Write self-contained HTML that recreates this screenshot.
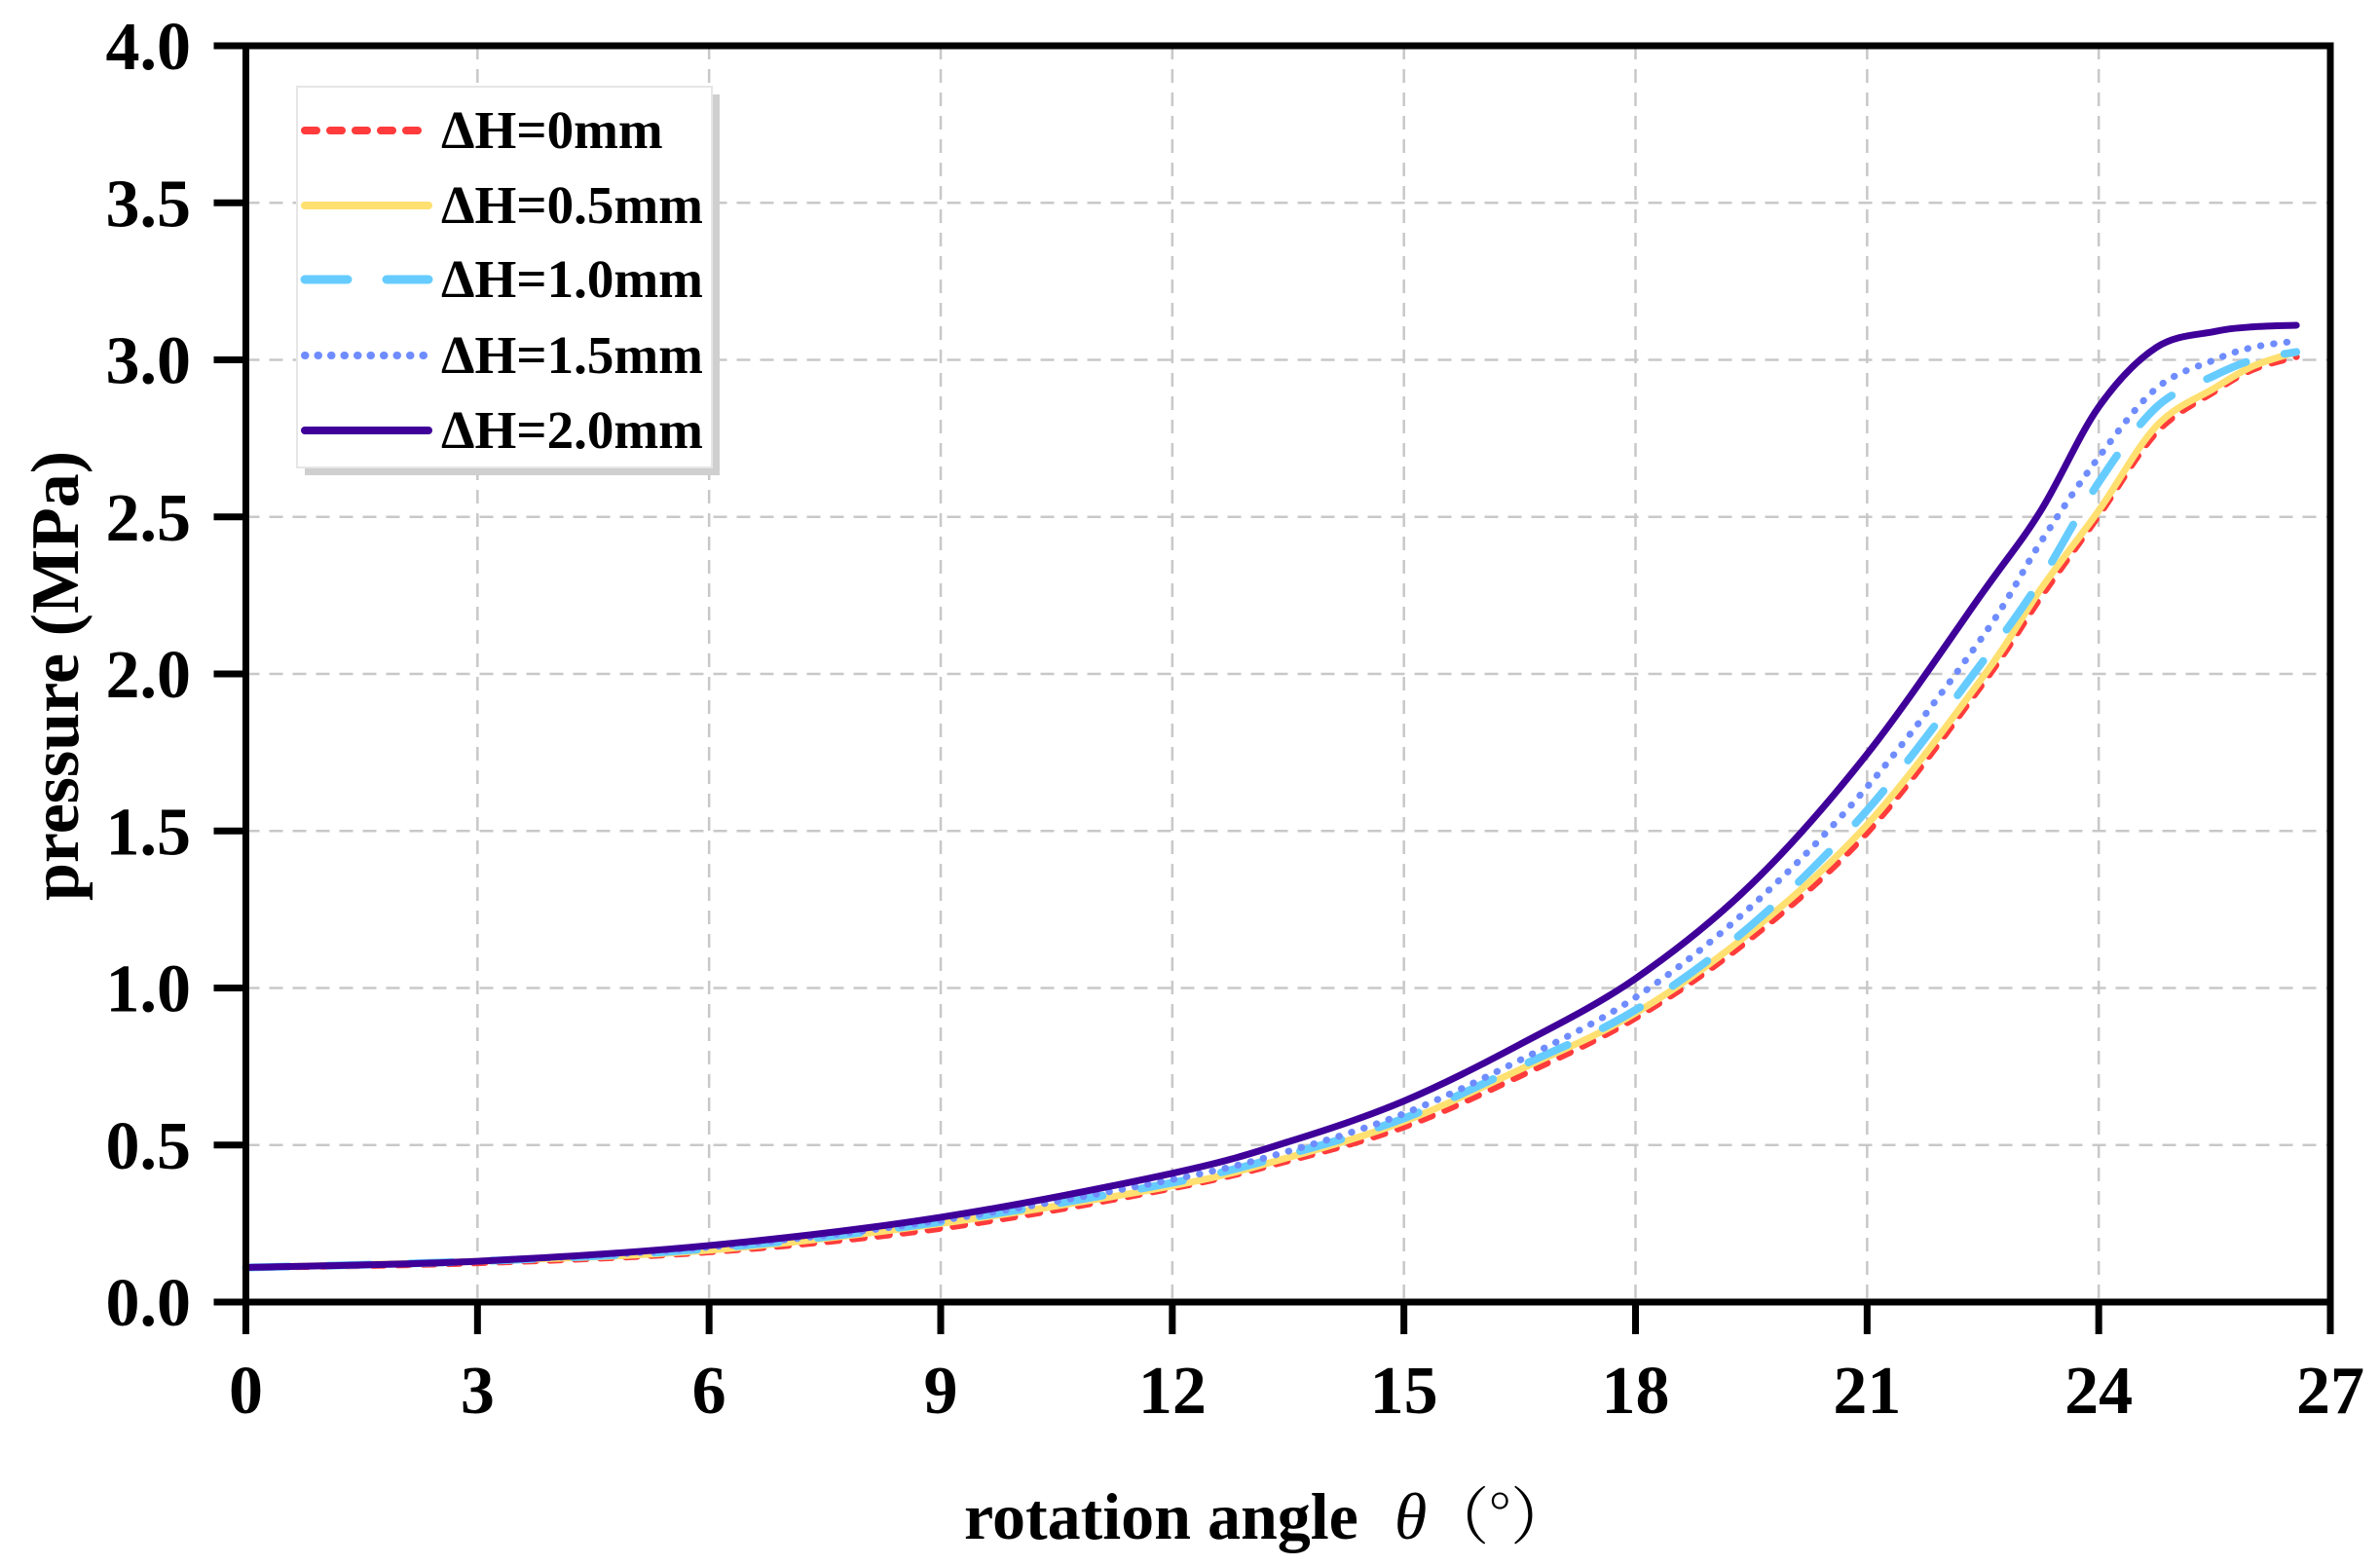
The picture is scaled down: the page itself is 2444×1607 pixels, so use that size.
<!DOCTYPE html>
<html><head><meta charset="utf-8"><style>
html,body{margin:0;padding:0;background:#fff;}
svg{display:block;font-family:"Liberation Serif","Noto Serif CJK SC",serif;font-weight:bold;}
</style></head><body>
<svg id="chart" width="2444" height="1607" viewBox="0 0 2444 1607" xmlns="http://www.w3.org/2000/svg">
<g id="grid"></g>
<g id="series"></g>
<g id="axes"></g>
<g id="legend"></g>
<text x="990" y="1580" font-size="68">rotation angle <tspan font-style="italic" font-weight="normal" dx="20">θ</tspan><tspan font-weight="normal" font-family="Noto Serif CJK SC, serif" font-size="64">（°）</tspan></text>
<text transform="translate(80,694) rotate(-90)" text-anchor="middle" font-size="70">pressure (MPa)</text>
</svg>
<script>
const angles = [0,3,6,9,12,13.5,15,16.5,18,19.5,21,22.5,23.25,24,24.75,25.5,26,26.56];
const p0mm = [.11,.125,.16,.235,.363,.45,.558,.72,.905,1.16,1.495,1.97,2.245,2.505,2.77,2.90,2.97,3.01];
const p05mm = [.11,.13,.165,.25,.37,.46,.575,.74,.92,1.18,1.52,1.99,2.27,2.52,2.79,2.91,2.98,3.025];
const p10mm = [.11,.13,.17,.255,.38,.47,.585,.75,.93,1.20,1.566,2.04,2.30,2.61,2.85,2.95,3.00,3.025];
const p15mm = [.11,.13,.175,.26,.39,.48,.60,.77,.97,1.26,1.64,2.12,2.42,2.69,2.91,3.00,3.04,3.06];
const p20mm = [.11,.13,.18,.27,.41,.51,.64,.82,1.03,1.33,1.745,2.26,2.52,2.85,3.04,3.09,3.105,3.11];
const xTicks = [0,3,6,9,12,15,18,21,24,27];
const yTicks = ["0.0","0.5","1.0","1.5","2.0","2.5","3.0","3.5","4.0"];
const seriesLabels = ["ΔH=0mm","ΔH=0.5mm","ΔH=1.0mm","ΔH=1.5mm","ΔH=2.0mm"];

const NS="http://www.w3.org/2000/svg";
const L=252.5,R=2393,T=47,B=1337;
const xs=v=>L+(v-0)/27*(R-L);
const ys=v=>B-(v-0)/4*(B-T);
function mk(tag,attrs,parent){const e=document.createElementNS(NS,tag);for(const k in attrs)e.setAttribute(k,attrs[k]);parent.appendChild(e);return e;}
const grid=document.getElementById('grid'),axes=document.getElementById('axes'),ser=document.getElementById('series'),leg=document.getElementById('legend');

xTicks.forEach(t=>{
  if(t>0&&t<27){const g=mk('line',{x1:xs(t),x2:xs(t),y1:T,y2:B,stroke:'#c8c8c8','stroke-width':2.5,'stroke-dasharray':'14 10'},grid);
  
  }
  const tk=mk('line',{x1:xs(t),x2:xs(t),y1:B,y2:B+33,stroke:'#000','stroke-width':7},axes);
  
  
  const lb=mk('text',{x:xs(t),y:1451,'text-anchor':'middle','font-size':70},axes);lb.textContent=t;
  
  
});
yTicks.forEach(s=>{
  const v=parseFloat(s);
  if(v>0&&v<4){const g=mk('line',{x1:L,x2:R,y1:ys(v),y2:ys(v),stroke:'#c8c8c8','stroke-width':2.5,'stroke-dasharray':'14 10'},grid);
  
  }
  const tk=mk('line',{x1:L-33,x2:L,y1:ys(v),y2:ys(v),stroke:'#000','stroke-width':7},axes);
  
  
  const lb=mk('text',{x:196,y:ys(v)+24,'text-anchor':'end','font-size':70},axes);lb.textContent=s;
  
  
});
const frame=mk('rect',{x:L,y:T,width:R-L,height:B-T,fill:'none',stroke:'#000','stroke-width':7},axes);



const styles=[
 {c:'#ff3b3b',w:7,d:'12 14',cap:'round'},
 {c:'#ffe070',w:7,d:'',cap:'round'},
 {c:'#66ccff',w:8,d:'44 40',cap:'round'},
 {c:'#6f8cff',w:7,d:'0.5 13',cap:'round'},
 {c:'#3f0099',w:7,d:'',cap:'round'}];
const data=[p0mm,p05mm,p10mm,p15mm,p20mm];
const names=['series-dh-0mm','series-dh-0-5mm','series-dh-1-0mm','series-dh-1-5mm','series-dh-2-0mm'];
function pathFor(vals){
  const P=angles.map((a,i)=>[xs(a),ys(vals[i])]);
  let d='M'+P[0][0]+','+P[0][1];
  for(let i=0;i<P.length-1;i++){
    const p0=P[i-1]||P[i],p1=P[i],p2=P[i+1],p3=P[i+2]||P[i+1];
    const c1=[p1[0]+(p2[0]-p0[0])/6,p1[1]+(p2[1]-p0[1])/6];
    const c2=[p2[0]-(p3[0]-p1[0])/6,p2[1]-(p3[1]-p1[1])/6];
    d+=` C${c1[0]},${c1[1]} ${c2[0]},${c2[1]} ${p2[0]},${p2[1]}`;
  }
  return d;
}
data.forEach((vals,i)=>{
  const s=styles[i];
  const p=mk('path',{d:pathFor(vals),fill:'none',stroke:s.c,'stroke-width':s.w,'stroke-linecap':s.cap,'stroke-linejoin':'round'},ser);
  if(s.d)p.setAttribute('stroke-dasharray',s.d);
  
  
});

const sh=mk('rect',{x:313,y:97,width:426,height:391,fill:'#cfcfcf'},leg);


const box=mk('rect',{x:305,y:89,width:426,height:391,fill:'#fff',stroke:'#e6e6e6','stroke-width':2},leg);


const rows=[134,211,287,365,442];
seriesLabels.forEach((lbl,i)=>{
  const s=styles[i];
  const ln=mk('line',{x1:313,x2:440,y1:rows[i],y2:rows[i],stroke:s.c,'stroke-width':s.w+1,'stroke-linecap':s.cap},leg);
  if(s.d)ln.setAttribute('stroke-dasharray',s.d);
  
  
  const t=mk('text',{x:453,y:rows[i]+18,'font-size':55},leg);t.textContent=lbl;
  
  
});
</script>
</body></html>
